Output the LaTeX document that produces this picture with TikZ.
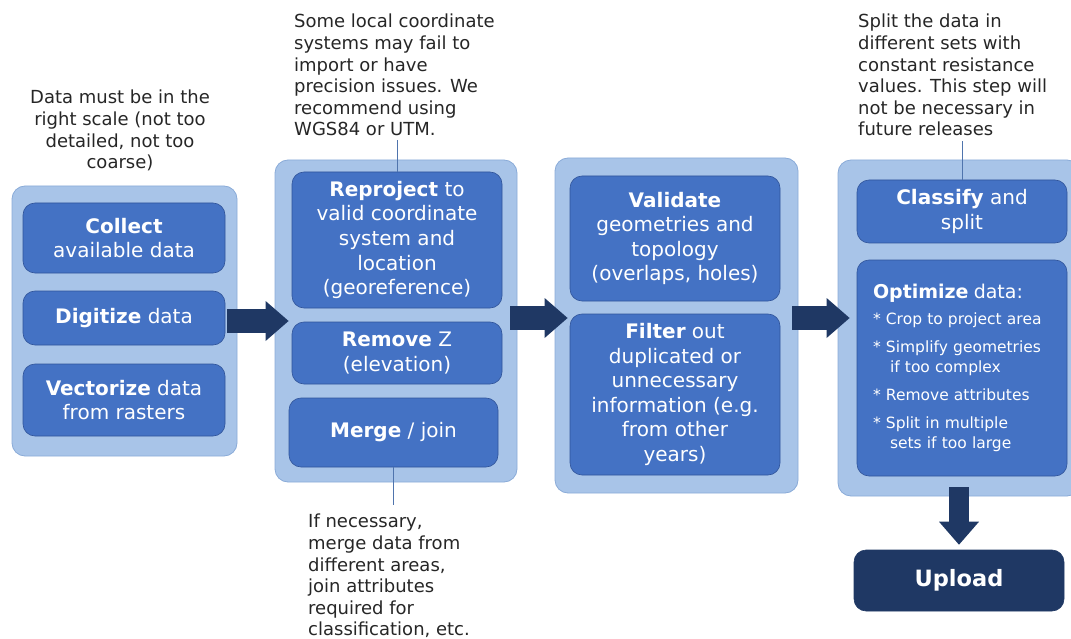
\documentclass[tikz,border=0pt]{standalone}
\usepackage{fontspec}
\setmainfont{DejaVu Sans}
\usepackage{xcolor}
\usetikzlibrary{arrows.meta, positioning}

\definecolor{grpfill}{HTML}{A8C4E8}
\definecolor{grpline}{HTML}{8AABD8}
\definecolor{boxfill}{HTML}{4472C4}
\definecolor{boxline}{HTML}{30549A}
\definecolor{navy}{HTML}{1F3864}
\definecolor{leader}{HTML}{4F74AD}

\begin{document}
\begin{tikzpicture}[
    x=1pt, y=-1pt,
    group/.style={rectangle, draw=grpline, fill=grpfill, rounded corners=13pt, line width=0.8pt},
    stage/.style={rectangle, draw=boxline, fill=boxfill, rounded corners=12pt, line width=0.6pt, minimum width=210pt,
        text=white, align=center, font=\fontsize{20}{24.6}\selectfont},
    final/.style={stage, draw=navy, fill=navy, font=\fontsize{22.5}{27}\selectfont\bfseries},
    note/.style={inner sep=0pt, text=black!85, font=\fontsize{18}{21.6}\selectfont},
    leaderline/.style={draw=leader, line width=0.8pt},
    bigarrow/.style={draw=navy, line width=24pt, -{Triangle[length=23pt, width=40pt, line width=0pt]}},
]
\clip (0,0) rectangle (1071,639);

% containers
\node[group, minimum width=225pt, minimum height=270pt] (g1) at (124.5,321) {};
\node[group, minimum width=242pt, minimum height=322pt] (g2) at (396,321) {};
\node[group, minimum width=243pt, minimum height=335pt] (g3) at (676.5,325.5) {};
\node[group, minimum width=242pt, minimum height=336pt] (g4) at (959,328) {};

% stage boxes
\node[stage, minimum width=202pt, minimum height=70pt] (collect) at (124,238) {\textbf{Collect}\\available data};
\node[stage, minimum width=202pt, minimum height=54pt] (digit) at (124,318) {\textbf{Digitize} data};
\node[stage, minimum width=202pt, minimum height=72pt] (vector) at (124,400) {\textbf{Vectorize} data\\from rasters};

\node[stage, minimum height=136pt] (reproj) at (397,240) {\textbf{Reproject} to\\valid coordinate\\system and\\location\\(georeference)};
\node[stage, minimum height=62pt] (remz) at (397,353) {\textbf{Remove} Z\\(elevation)};
\node[stage, minimum width=209pt, minimum height=69pt] (merge) at (393.5,432.5) {\textbf{Merge} / join};

\node[stage, minimum height=125pt] (valid) at (675,238.5) {\textbf{Validate}\\geometries and\\topology\\(overlaps, holes)};
\node[stage, minimum height=161pt] (filter) at (675,394.5) {\textbf{Filter} out\\duplicated or\\unnecessary\\information (e.g.\\from other\\years)};

\node[stage, minimum height=63pt] (classify) at (962,211.5) {\textbf{Classify} and\\split};
\node[stage, minimum height=216pt, text width=178pt, inner xsep=16pt, align=left, font=\fontsize{15.5}{20}\selectfont] (optim) at (962,368)
    {{\fontsize{19}{22}\selectfont\textbf{Optimize} data:}\\[6pt]
     * Crop to project area\\[8pt]
     * Simplify geometries\\\hspace*{17pt}if too complex\\[8pt]
     * Remove attributes\\[8pt]
     * Split in multiple\\\hspace*{17pt}sets if too large};

\node[final, minimum height=61pt] (upload) at (959,580.5) {Upload};

% notes
\node[note, align=center, anchor=north] (note1) at (120,90) {Data must be in the\\right scale (not too\\detailed, not too\\coarse)};
\node[note, align=left, anchor=north west] (note2) at (294,14) {Some local coordinate\\systems may fail to\\import or have\\precision issues. We\\recommend using\\WGS84 or UTM.};
\node[note, align=left, anchor=north west] (note3) at (308,514) {If necessary,\\merge data from\\different areas,\\join attributes\\required for\\classification, etc.};
\node[note, align=left, anchor=north west] (note4) at (858,14) {Split the data in\\different sets with\\constant resistance\\values. This step will\\not be necessary in\\future releases};

\draw[leaderline] (reproj.north) -- ([yshift=-4pt]reproj.north |- note2.south);
\draw[leaderline] (merge.south) -- ([yshift=9pt]merge.south |- note3.north);
\draw[leaderline] (classify.north) -- ([yshift=-5pt]classify.north |- note4.south);

% flow arrows
\draw[bigarrow] ([xshift=-10pt]g1.east) -- ([xshift=14pt]g1.east -| g2.west);
\draw[bigarrow] ([xshift=-7pt, yshift=3pt]g2.east) -- ([xshift=13pt, yshift=3pt]g2.east -| g3.west);
\draw[bigarrow] ([xshift=-6pt, yshift=3pt]g2.east -| g3.east) -- ([xshift=12pt, yshift=3pt]g2.east -| g4.west);
\draw[bigarrow, line width=20pt] ([yshift=9pt]g4.south -| upload.north) -- ([yshift=5pt]upload.north);

\end{tikzpicture}
\end{document}
